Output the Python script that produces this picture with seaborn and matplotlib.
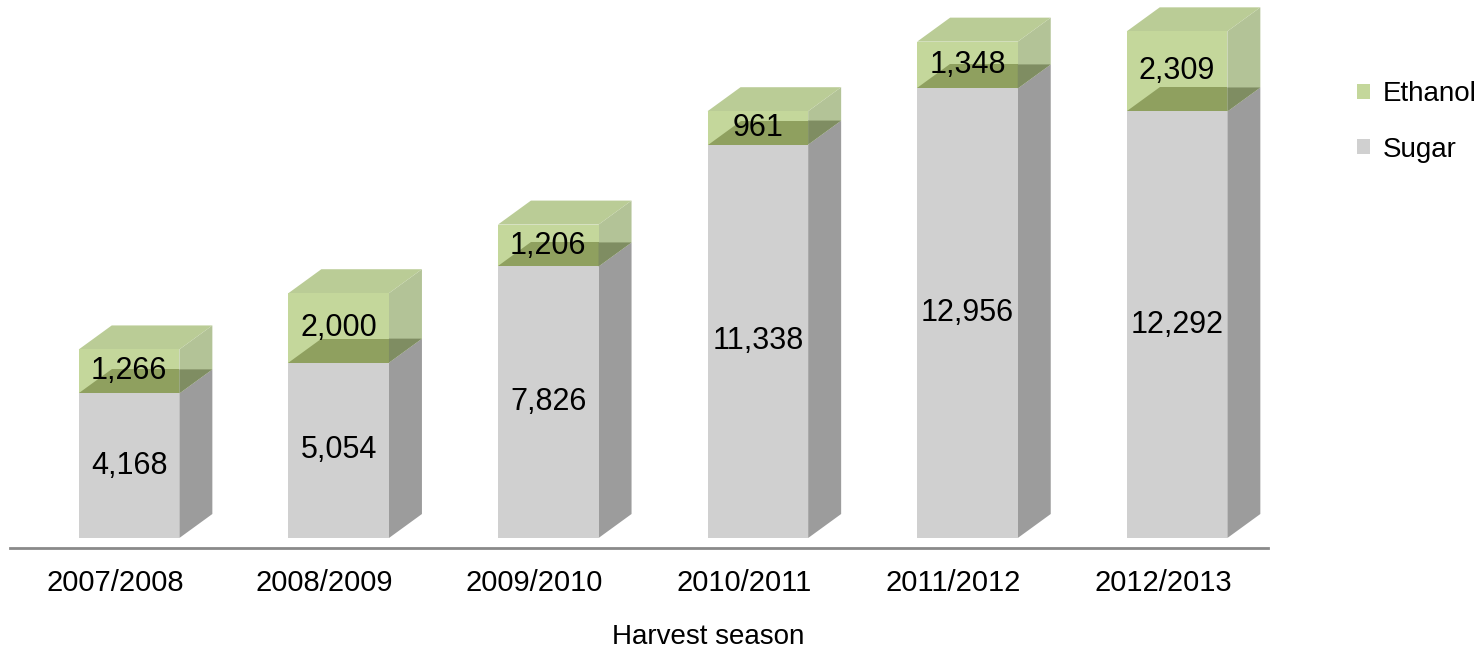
import matplotlib
matplotlib.use("Agg")
import matplotlib.pyplot as plt
import matplotlib.transforms as mtransforms
import seaborn as sns
import pandas as pd
from matplotlib.patches import Polygon, Patch

seasons = ["2007/2008", "2008/2009", "2009/2010", "2010/2011", "2011/2012", "2012/2013"]
sugar = [4168, 5054, 7826, 11338, 12956, 12292]
ethanol = [1266, 2000, 1206, 961, 1348, 2309]
series_names = ["Ethanol", "Sugar"]

sns.set_theme(style="white")
FONT = ["Liberation Sans", "DejaVu Sans"]
plt.rcParams["font.family"] = FONT

df = pd.DataFrame({"season": seasons, "sugar": sugar, "ethanol": ethanol})
df["total"] = df["sugar"] + df["ethanol"]

W, H = 1481, 653
fig = plt.figure(figsize=(W / 100, H / 100), dpi=100)
ax = fig.add_axes([10 / W, (H - 548) / H, 1258 / W, 548 / H])

C_SUG_FRONT = "#d0d0d0"
C_SUG_SIDE = "#9c9c9c"
C_ETH_FRONT = "#c4d79b"
C_ETH_SIDE = "#b3c397"
C_ETH_TOP = "#bacc96"
C_SUGTOP_FRONT = "#8fa05f"
C_SUGTOP_SIDE = "#7f8d62"

sns.barplot(data=df, x="season", y="total", color=C_ETH_FRONT, saturation=1,
            width=0.48, ax=ax, zorder=2, linewidth=0)
n = len(seasons)
sns.barplot(data=df, x="season", y="sugar", color=C_SUG_FRONT, saturation=1,
            width=0.48, ax=ax, zorder=3, linewidth=0)

ax.set_xlim(-0.568, 5.434)
ax.set_ylim(-288, 15504)

eth_patches = ax.patches[:n]
sug_patches = ax.patches[n:2 * n]

dx = 33 / 209.6
dy = 24 / 0.0347

for i in range(n):
    sp = sug_patches[i]
    ep = eth_patches[i]
    x0 = sp.get_x()
    x1 = x0 + sp.get_width()
    s = sp.get_height()
    t = ep.get_height()
    ax.add_patch(Polygon([(x1, 0), (x1 + dx, dy), (x1 + dx, s + dy), (x1, s)],
                         closed=True, fc=C_SUG_SIDE, ec="none", zorder=1))
    ax.add_patch(Polygon([(x1, s), (x1 + dx, s + dy), (x1 + dx, t + dy), (x1, t)],
                         closed=True, fc=C_ETH_SIDE, ec="none", zorder=1))
    ax.add_patch(Polygon([(x0, t), (x1, t), (x1 + dx, t + dy), (x0 + dx, t + dy)],
                         closed=True, fc=C_ETH_TOP, ec="none", zorder=1))
    ax.add_patch(Polygon([(x0, s), (x1, s), (x1, s + dy), (x0 + dx, s + dy)],
                         closed=True, fc=C_SUGTOP_FRONT, ec="none", zorder=4))
    ax.add_patch(Polygon([(x1, s), (x1 + dx, s + dy), (x1, s + dy)],
                         closed=True, fc=C_SUGTOP_SIDE, ec="none", zorder=4))
    xc = x0 + sp.get_width() / 2
    ax.text(xc, s / 2, f"{sugar[i]:,}", ha="center", va="center",
            fontsize=22, color="black", family=FONT, zorder=6)
    ax.text(xc, s + ethanol[i] / 2, f"{ethanol[i]:,}", ha="center", va="center",
            fontsize=22, color="black", family=FONT, zorder=6)

for side in ["left", "right", "top"]:
    ax.spines[side].set_visible(False)
ax.spines["bottom"].set_color("#8a8a8a")
ax.spines["bottom"].set_linewidth(2)
ax.set_yticks([])
ax.set_ylabel("")
ax.tick_params(axis="x", length=0, labelsize=21, pad=15, colors="black")
shift = mtransforms.ScaledTranslation(-14 / 100, 0, fig.dpi_scale_trans)
for lbl in ax.get_xticklabels():
    lbl.set_family(FONT)
    lbl.set_transform(lbl.get_transform() + shift)
ax.set_xlabel("Harvest season", fontsize=20, color="black", family=FONT)
ax.xaxis.set_label_coords((708 - 10) / 1258, -(637 - 548) / 548)
ax.xaxis.label.set_va("center")

handles = [Patch(fc=C_ETH_FRONT, ec="none"), Patch(fc=C_SUG_FRONT, ec="none")]
leg = fig.legend(handles, series_names, loc="center left",
                 bbox_to_anchor=(1332 / W, 1 - 122 / H), frameon=False,
                 prop={"family": FONT, "size": 20}, handlelength=0.47, handleheight=0.47,
                 handletextpad=0.45, labelspacing=1.05)
for t in leg.get_texts():
    t.set_color("black")

fig.savefig("out.png", dpi=100)
